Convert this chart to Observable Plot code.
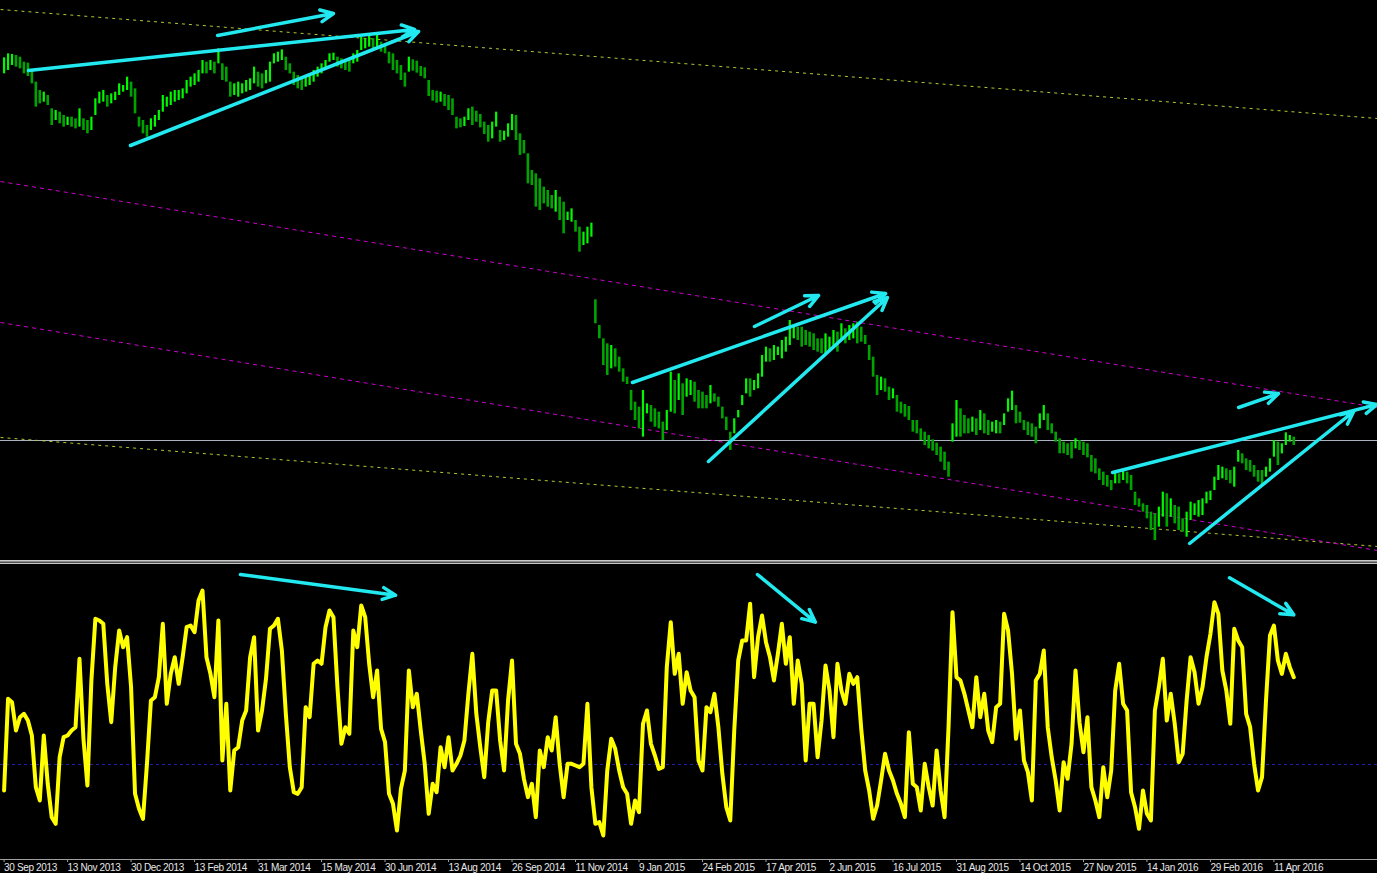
<!DOCTYPE html>
<html>
<head>
<meta charset="utf-8">
<script src="https://cdn.jsdelivr.net/npm/d3@7"></script>
<script src="https://cdn.jsdelivr.net/npm/@observablehq/plot@0.6"></script>
<style>
html,body{margin:0;padding:0;background:#000;}
#chart{position:relative;width:1377px;height:873px;background:#000;overflow:hidden;font-family:"Liberation Sans",Arial,sans-serif;}
#top{position:absolute;left:0;top:0;}
#sep{position:absolute;left:0;top:559px;width:1377px;height:5px;
 background:linear-gradient(to bottom,#000 0 1px,#c8c8c8 1px 2px,#8c8c8c 2px 3px,#505050 3px 4px,#c8c8c8 4px 5px);}
#bottom{position:absolute;left:0;top:564px;}
#bottom svg text{letter-spacing:-0.35px;}
svg{display:block;}
</style>
</head>
<body>
<div id="chart"><div id="top"></div><div id="sep"></div><div id="bottom"></div></div>
<script>
// ---- price bars: one entry per two daily bars (high / low, in points) ----
const highs = [
1628,1640,1638,1635,1630,1615,1612,1590,1555,1530,
1525,1515,1475,1470,1465,1455,1450,1450,1445,1475,
1445,1440,1450,1505,1525,1530,1515,1520,1525,1550,
1545,1570,1555,1535,1450,1440,1425,1445,1455,1470,
1515,1510,1525,1530,1530,1535,1560,1570,1580,1590,
1620,1615,1620,1615,1655,1610,1600,1555,1550,1555,
1550,1560,1565,1600,1585,1580,1590,1615,1640,1645,
1652,1630,1610,1585,1575,1570,1575,1580,1590,1600,
1610,1620,1640,1642,1630,1625,1620,1620,1640,1650,
1690,1685,1695,1685,1698,1675,1665,1645,1640,1620,
1605,1582,1630,1622,1618,1602,1598,1560,1530,1528,
1525,1518,1515,1505,1450,1445,1450,1475,1480,1468,
1458,1435,1425,1435,1465,1410,1408,1430,1458,1455,
1400,1380,1340,1290,1280,1265,1240,1230,1215,1230,
1210,1195,1165,1175,1140,1120,1105,1120,1132,
902,825,785,770,765,755,730,695,670,630,
595,580,630,590,585,575,565,535,570,685,
660,680,650,665,660,655,630,625,615,645,
620,610,580,550,505,545,570,615,665,665,
660,680,735,760,755,765,760,780,790,840,
825,820,820,810,805,800,785,785,800,790,
810,805,830,815,825,830,835,820,795,765,
730,675,670,665,640,635,615,595,588,582,
540,540,515,505,495,482,472,460,445,415,
530,600,575,555,545,550,
545,570,560,540,535,540,535,560,605,628,
585,565,540,535,530,520,560,585,560,530,
505,485,475,470,475,485,480,475,470,435,
425,395,385,375,360,385,380,390,385,375,
325,305,290,285,265,260,280,325,320,305,
285,280,245,265,295,290,300,305,325,328,
370,405,400,395,390,400,450,440,425,420,
405,390,390,400,425,480,475,470,503,495,490
];
const lows = [
1580,1590,1605,1600,1595,1580,1572,1550,1480,1490,
1495,1485,1425,1440,1430,1420,1425,1420,1415,1420,
1410,1400,1410,1455,1490,1495,1480,1490,1500,1515,
1525,1530,1510,1460,1420,1400,1390,1410,1420,1440,
1465,1480,1485,1495,1500,1505,1520,1540,1545,1555,
1580,1580,1590,1580,1610,1560,1555,1510,1515,1510,
1520,1525,1530,1550,1540,1535,1550,1555,1610,1615,
1620,1590,1580,1545,1535,1530,1540,1545,1555,1570,
1580,1590,1615,1620,1600,1595,1590,1585,1610,1615,
1650,1655,1660,1650,1660,1645,1640,1610,1590,1580,
1560,1540,1585,1588,1582,1572,1565,1512,1498,1492,
1495,1482,1470,1455,1415,1418,1422,1440,1425,1435,
1418,1398,1375,1385,1420,1375,1380,1390,1410,1380,
1335,1340,1250,1245,1180,1170,1190,1180,1175,1165,
1140,1100,1140,1135,1105,1045,1065,1070,1090,
830,785,705,675,695,700,685,655,648,570,
540,515,490,560,535,520,515,480,510,565,
560,600,555,610,615,595,575,575,575,590,
595,580,545,510,450,500,548,585,620,610,
630,635,670,715,715,720,735,725,745,765,
785,780,760,765,760,750,745,740,735,745,
760,745,780,770,780,785,770,775,768,720,
670,615,630,625,600,605,565,560,550,540,
505,500,480,465,455,448,435,415,390,370,
475,490,490,500,500,505,
495,510,500,495,505,500,500,525,565,570,
530,532,510,495,490,470,515,540,510,500,
475,440,440,435,425,455,450,435,428,385,
380,360,345,340,330,350,350,360,350,330,
285,280,265,245,210,180,220,250,220,250,
230,210,205,190,240,255,250,255,290,300,
330,360,365,360,350,340,415,410,390,385,
370,355,345,370,385,430,405,440,465,475,465
];
// ---- oscillator (same sampling as the bars) ----
const osc = [
-78,197,187,102,142,152,132,87,-68,-108,
87,-58,-158,-178,22,82,87,102,112,317,
77,-63,252,437,432,422,242,127,292,402,
352,382,232,-88,-133,-163,2,192,202,262,
422,182,272,322,242,322,412,417,397,492,
522,322,272,202,432,12,182,-78,42,52,
132,162,322,382,102,162,257,407,417,437,
342,152,-8,-83,-88,-68,172,142,302,312,
302,412,462,442,232,62,112,92,402,352,
477,442,302,202,282,107,67,-88,-118,-198,
-73,-18,282,172,212,102,2,-148,-58,-83,
52,-8,82,-18,2,27,72,212,332,152,
52,-38,127,222,222,72,-18,192,312,62,
32,-43,-98,-58,-158,42,-8,82,42,142,
2,-98,2,2,-3,-8,2,182,-68,-178,
-173,-213,-18,77,47,-18,-68,-88,-178,-108,
-143,122,162,62,27,-13,-8,292,427,272,
332,182,277,222,202,12,-18,172,157,212,
112,-28,-128,-168,102,312,372,372,482,262,
382,447,367,322,252,332,422,302,382,182,
312,242,12,182,182,22,132,297,222,82,
302,222,182,272,242,262,107,-18,-78,-163,
-123,-48,32,-18,-48,-88,-118,-158,97,-58,
-68,-138,2,-68,-123,42,-78,-158,112,457,
262,252,212,162,112,262,142,212,102,67,
172,182,452,402,272,77,162,12,-23,-108,
252,272,342,112,22,-48,-138,7,-43,62,
282,127,37,142,-68,-108,-158,-8,-98,-18,
222,302,182,162,-83,-128,-193,-78,-148,-168,
162,232,317,132,212,122,7,32,192,322,
277,182,232,322,392,487,452,282,222,122,
407,372,352,152,112,2,-78,-38,192,387,
417,312,272,332,292,262
];
const oscLevel = 0;
const refPrice = 480;

// ---- x axis (bar index -> date label) ----
const tickIndex = [0,32,64,96,128,160,192,224,256,288,320,352,384,416,448,480,512,544,576,608,640];
const tickLabels = ["30 Sep 2013","13 Nov 2013","30 Dec 2013","13 Feb 2014","31 Mar 2014","15 May 2014",
 "30 Jun 2014","13 Aug 2014","26 Sep 2014","11 Nov 2014","9 Jan 2015","24 Feb 2015","17 Apr 2015",
 "2 Jun 2015","16 Jul 2015","31 Aug 2015","14 Oct 2015","27 Nov 2015","14 Jan 2016","29 Feb 2016","11 Apr 2016"];

// ---- channel lines (bar index, price) ----
const outerChannel = [
  {i1:-1.8, p1:1773, i2:692.2, p2:1446},
  {i1:-1.8, p1:489,  i2:692.2, p2:162}
];
const innerChannel = [
  {i1:-1.8, p1:1257, i2:692.2, p2:579},
  {i1:-1.8, p1:834,  i2:692.2, p2:150}
];
// ---- annotation arrows ----
const priceArrows = [
  {i1:107.6, p1:1695, i2:166.0, p2:1761},
  {i1:12.3,  p1:1590, i2:206.9, p2:1713},
  {i1:63.7,  p1:1365, i2:208.9, p2:1707},
  {i1:316.7, p1:654,  i2:444.3, p2:921},
  {i1:378.2, p1:822,  i2:410.5, p2:915},
  {i1:355.0, p1:417,  i2:445.2, p2:909},
  {i1:558.7, p1:384,  i2:692.0, p2:588},
  {i1:622.2, p1:579,  i2:642.3, p2:621},
  {i1:597.5, p1:171,  i2:680.2, p2:567}
];
const oscArrows = [
  {i1:119.1, v1:570, i2:197.3, v2:508},
  {i1:379.7, v1:570, i2:408.9, v2:427},
  {i1:617.6, v1:560, i2:650.0, v2:449}
];

const bars = highs.map((h, k) => ({
  i: 2 * k, high: h, low: lows[k],
  up: k === 0 ? true : (h + lows[k]) >= (highs[k - 1] + lows[k - 1])
}));
const oscPts = osc.map((v, k) => ({i: 2 * k, v}));
const xDomain = [-1.81, 692.2];
const cyan = "#22e8f0";

const topPlot = Plot.plot({
  width: 1377, height: 559, margin: 0,
  style: {background: "#000"},
  x: {domain: xDomain, axis: null},
  y: {domain: [123, 1800], axis: null},
  marks: [
    Plot.ruleY([refPrice], {stroke: "#aab2c0", strokeWidth: 1}),
    Plot.link(outerChannel, {x1: "i1", y1: "p1", x2: "i2", y2: "p2", stroke: "#b4c832", strokeWidth: 1, strokeDasharray: "3,4"}),
    Plot.link(innerChannel, {x1: "i1", y1: "p1", x2: "i2", y2: "p2", stroke: "#d000d0", strokeWidth: 1, strokeDasharray: "4,4"}),
    Plot.ruleX(bars.filter(d => !d.up), {x: "i", y1: "low", y2: "high", stroke: "#00a400", strokeWidth: 2.6}),
    Plot.ruleX(bars.filter(d => d.up), {x: "i", y1: "low", y2: "high", stroke: "#00f800", strokeWidth: 2.2}),
    Plot.arrow(priceArrows, {x1: "i1", y1: "p1", x2: "i2", y2: "p2", stroke: cyan, strokeWidth: 3.5, headLength: 6, headAngle: 50})
  ]
});
document.getElementById("top").appendChild(topPlot);

const bottomPlot = Plot.plot({
  width: 1377, height: 309, marginTop: 0, marginBottom: 14, marginLeft: 0, marginRight: 0,
  style: {background: "#000", color: "#e8e8e8", fontSize: "10px", fontFamily: "Liberation Sans, Arial, sans-serif"},
  x: {domain: xDomain},
  y: {domain: [-285, 600], axis: null},
  marks: [
    Plot.ruleY([oscLevel], {stroke: "#2020b0", strokeWidth: 1, strokeDasharray: "3,3"}),
    Plot.line(oscPts, {x: "i", y: "v", stroke: "#ffff00", strokeWidth: 4, strokeLinejoin: "round"}),
    Plot.arrow(oscArrows, {x1: "i1", y1: "v1", x2: "i2", y2: "v2", stroke: cyan, strokeWidth: 3.5, headLength: 6, headAngle: 50}),
    Plot.ruleY([-285], {stroke: "#a0a0a0", strokeWidth: 1}),
    Plot.axisX({ticks: tickIndex, tickFormat: d => tickLabels[tickIndex.indexOf(d)], tickSize: 3, tickPadding: 1,
      textAnchor: "start", dx: 0, stroke: "#a0a0a0", fill: "#e8e8e8", fontSize: 10, label: null})
  ]
});
document.getElementById("bottom").appendChild(bottomPlot);
</script>
</body>
</html>
